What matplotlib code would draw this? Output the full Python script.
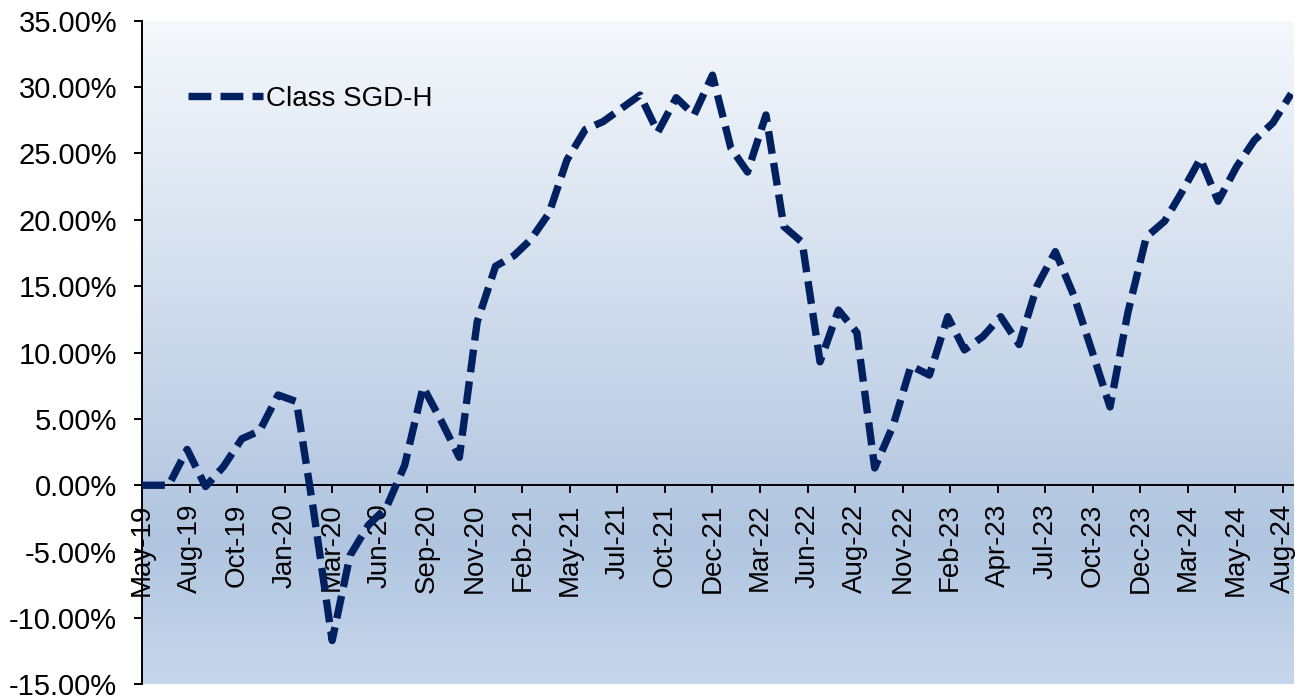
import numpy as np
import pandas as pd
import matplotlib
matplotlib.use("Agg")
import matplotlib.pyplot as plt
from matplotlib.colors import LinearSegmentedColormap
from matplotlib.ticker import FuncFormatter, FixedFormatter

plt.rcParams["font.family"] = ["Liberation Sans", "DejaVu Sans"]

# cumulative return of the share class (%), launch date then month-ends
launch_date = "2019-05-16"
month_ends = pd.date_range("2019-05-31", "2024-08-31", freq="ME")
returns = [
    0.0,                                                       # launch
    0.0, 0.0, 2.7, -0.1, 1.4, 3.5, 4.1, 6.8,                   # 2019
    6.3, -2.0, -11.7, -5.3, -3.0, -1.7, 1.5, 7.4, 4.9, 2.1, 12.3, 16.5,   # 2020
    17.3, 18.5, 20.5, 24.5, 26.8, 27.4, 28.4, 29.4, 26.6, 29.2, 27.9, 30.9,  # 2021
    25.4, 23.6, 27.9, 19.5, 18.3, 9.3, 13.2, 11.5, 1.3, 4.5, 9.0, 8.3,  # 2022
    12.7, 10.2, 11.2, 12.7, 10.6, 15.0, 17.6, 14.3, 10.2, 5.9, 13.0, 18.7,  # 2023
    19.9, 22.1, 24.6, 21.4, 24.0, 26.0, 27.3, 29.5,            # 2024
]
dates = pd.DatetimeIndex([pd.Timestamp(launch_date)]).append(month_ends)
series_name = "Class SGD-H"

# date axis labelled every 80 days from launch
tick_labels = ["May-19", "Aug-19", "Oct-19", "Jan-20", "Mar-20", "Jun-20", "Sep-20",
               "Nov-20", "Feb-21", "May-21", "Jul-21", "Oct-21", "Dec-21", "Mar-22",
               "Jun-22", "Aug-22", "Nov-22", "Feb-23", "Apr-23", "Jul-23", "Oct-23",
               "Dec-23", "Mar-24", "May-24", "Aug-24"]
tick_dates = [pd.Timestamp(launch_date) + pd.Timedelta(days=80 * k) for k in range(len(tick_labels))]

fig = plt.figure(figsize=(13.04, 7.0), dpi=100)
ax = fig.add_axes([0.1089, 0.0224, 0.8827, 0.948])

# vertical gradient fill of the plot area
grad_cmap = LinearSegmentedColormap.from_list(
    "plotarea", [(0.0, "#f5f8fc"), (0.78, "#b1c5e0"), (1.0, "#c6d6ec")])
grad = np.linspace(0, 1, 256).reshape(-1, 1)
ax.imshow(grad, cmap=grad_cmap, aspect="auto", extent=[0, 1, 0, 1],
          transform=ax.transAxes, zorder=0, interpolation="bilinear")

ax.plot(dates, returns, color="#002060", linewidth=5.3, linestyle=(0, (3.1, 1.25)),
        dash_capstyle="butt", dash_joinstyle="round", label=series_name, zorder=3)

ax.set_xlim(pd.Timestamp(launch_date), pd.Timestamp("2024-09-03"))
ax.set_ylim(-15, 35)
ax.set_yticks(np.arange(-15, 36, 5))
ax.yaxis.set_major_formatter(FuncFormatter(lambda v, _: f"{v:.2f}%"))
ax.set_xticks(tick_dates)
ax.xaxis.set_major_formatter(FixedFormatter(tick_labels))

for s in ["top", "right"]:
    ax.spines[s].set_visible(False)
ax.spines["bottom"].set_position(("data", 0))
ax.spines["bottom"].set_linewidth(1.4)
ax.spines["left"].set_linewidth(1.4)
ax.tick_params(axis="x", direction="out", length=6, width=1.4, pad=7, labelsize=20,
               labelrotation=90)
ax.tick_params(axis="y", direction="out", length=6, width=1.4, pad=12, labelsize=21)
for lbl in ax.get_xticklabels():
    lbl.set_horizontalalignment("center")
    lbl.set_verticalalignment("top")

ax.legend(loc="center left", bbox_to_anchor=(0.04, 0.882), frameon=False, fontsize=20,
          handlelength=2.7, handletextpad=0.1, borderpad=0, borderaxespad=0)

fig.savefig("out.png", dpi=100, facecolor="white")
